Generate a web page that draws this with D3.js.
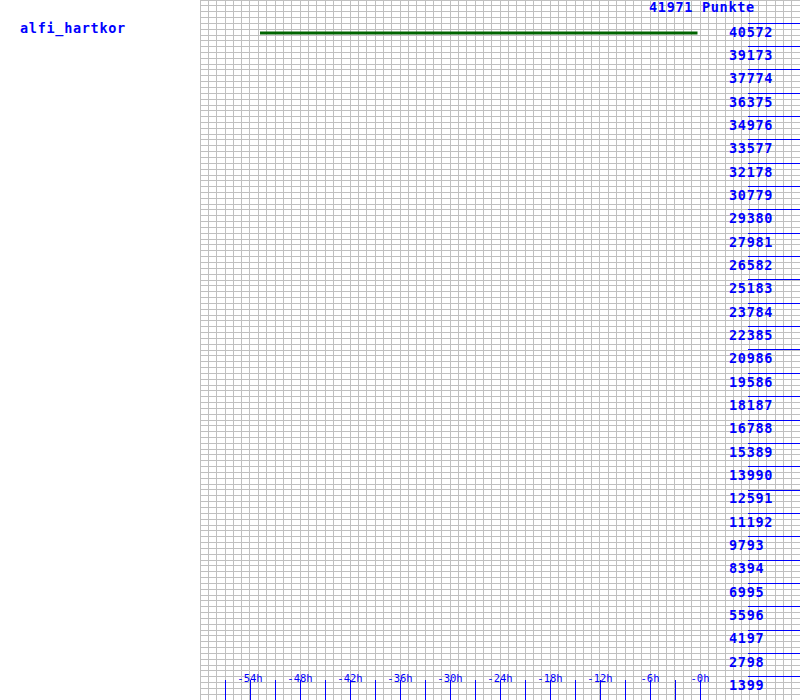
<!DOCTYPE html>
<html><head><meta charset="utf-8">
<script src="https://cdn.jsdelivr.net/npm/d3@7"></script>
<style>body{margin:0;background:#fff}svg{display:block}</style>
</head><body>
<script>
const playerName = "alfi_hartkor";
const maxPoints = 41971;
const unitLabel = "Punkte";
const yTickLabels = [1399,2798,4197,5596,6995,8394,9793,11192,12591,13990,15389,16788,18187,19586,20986,22385,23784,25183,26582,27981,29380,30779,32178,33577,34976,36375,37774,39173,40572];
const xTickHours = [-57,-54,-51,-48,-45,-42,-39,-36,-33,-30,-27,-24,-21,-18,-15,-12,-9,-6,-3,0];
const xLabelHours = [-54,-48,-42,-36,-30,-24,-18,-12,-6,0];
const seriesHours = [-52.8, -0.3];
const seriesPoints = [39990, 39990];

const W = 800, H = 700;
const svg = d3.select("body").append("svg").attr("width", W).attr("height", H);
const x = d3.scaleLinear().domain([-60, 12]).range([200, 800]);
const y = d3.scaleLinear().domain([0, maxPoints]).range([700, 0]);
const font = "'DejaVu Sans Mono', monospace";
const blue = "#0000ff";

function bigText(sel) {
  return sel.attr("font-family", font).attr("font-size", "13.5px").attr("font-weight", "bold")
    .attr("letter-spacing", "0.7px").attr("fill", blue);
}

// grid
const g = svg.append("g").attr("shape-rendering", "crispEdges");
g.selectAll("line.v").data(d3.range(-60, 12.001, 1)).join("line")
  .attr("x1", d => Math.floor(x(d)) + 0.5).attr("x2", d => Math.floor(x(d)) + 0.5)
  .attr("y1", 0).attr("y2", H).attr("stroke", "#c0c0c0").attr("stroke-width", 1);
g.selectAll("line.h").data(d3.range(0, 121)).join("line")
  .attr("y1", d => Math.floor(y(d * maxPoints / 120)) + 0.5).attr("y2", d => Math.floor(y(d * maxPoints / 120)) + 0.5)
  .attr("x1", 200).attr("x2", W).attr("stroke", "#c0c0c0").attr("stroke-width", 1);

// y ticks
const yt = svg.append("g");
yt.selectAll("line").data(yTickLabels).join("line")
  .attr("shape-rendering", "crispEdges")
  .attr("x1", 748).attr("x2", W)
  .attr("y1", d => Math.floor(y(d)) + 0.5).attr("y2", d => Math.floor(y(d)) + 0.5)
  .attr("stroke", blue);
bigText(yt.selectAll("text").data(yTickLabels).join("text")
  .attr("x", 729).attr("y", d => y(d) + 13.2)).text(d => d);

// x ticks
const xt = svg.append("g");
xt.selectAll("line").data(xTickHours).join("line")
  .attr("shape-rendering", "crispEdges")
  .attr("x1", d => Math.round(x(d)) + 0.5).attr("x2", d => Math.round(x(d)) + 0.5)
  .attr("y1", 680).attr("y2", H).attr("stroke", blue).attr("stroke-width", 1);
xt.selectAll("text").data(xLabelHours).join("text")
  .attr("x", d => x(d)).attr("y", 681.5).attr("text-anchor", "middle")
  .attr("font-family", font).attr("font-size", "10.5px")
  .attr("fill", blue).text(d => (d === 0 ? "-0" : d) + "h");

// series
const line = d3.line().x((d, i) => x(seriesHours[i])).y(d => y(d));
svg.append("path").datum(seriesPoints).attr("d", line)
  .attr("fill", "none").attr("stroke", "#006400").attr("stroke-width", 3);

// titles
bigText(svg.append("text").attr("x", 649).attr("y", 12)).text(maxPoints + " " + unitLabel);
bigText(svg.append("text").attr("x", 20).attr("y", 33)).text(playerName);
</script>
</body></html>
